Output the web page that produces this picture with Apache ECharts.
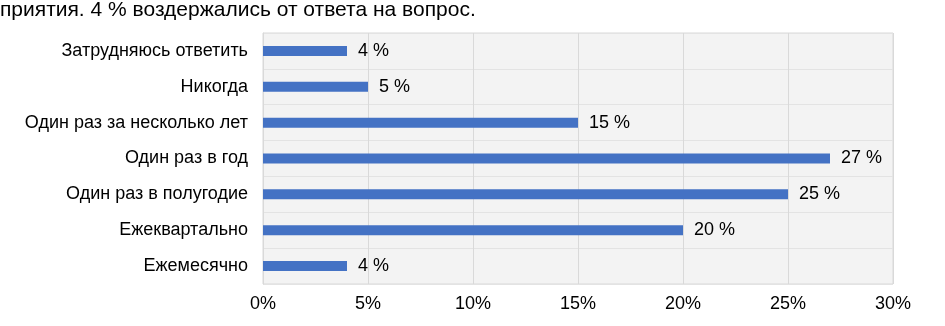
<!DOCTYPE html>
<html>
<head>
<meta charset="utf-8">
<script src="https://cdn.jsdelivr.net/npm/echarts@6/dist/echarts.min.js"></script>
<style>
html, body { margin: 0; padding: 0; background: #fff; }
#chart { width: 945px; height: 326px; }
</style>
</head>
<body>
<div id="chart"></div>
<script type="text/javascript">
// ответы, сверху вниз
var categories = ['Затрудняюсь ответить', 'Никогда', 'Один раз за несколько лет',
    'Один раз в год', 'Один раз в полугодие', 'Ежеквартально', 'Ежемесячно'];
var values = [4, 5, 15, 27, 25, 20, 4];
var xTicks = [0, 5, 10, 15, 20, 25, 30];
var headText = 'приятия. 4 % воздержались от ответа на вопрос.';

var font = 'Liberation Sans, Arial, sans-serif';
var chart = echarts.init(document.getElementById('chart'));

var option = {
    animation: false,
    textStyle: { fontFamily: font },
    graphic: [{
        type: 'text',
        left: 0,
        top: 0,
        style: { text: headText, font: '21px ' + font, fill: '#000' }
    }],
    grid: {
        left: 263,
        right: 52,
        top: 33,
        bottom: 42,
        show: true,
        backgroundColor: '#f3f3f3',
        borderColor: '#d9d9d9',
        borderWidth: 1
    },
    xAxis: {
        type: 'value',
        min: xTicks[0],
        max: xTicks[xTicks.length - 1],
        interval: 5,
        axisLine: { show: false },
        axisTick: { show: false },
        axisLabel: { color: '#000', fontSize: 18, margin: 11, formatter: '{value}%' },
        splitLine: { lineStyle: { color: '#d9d9d9' } }
    },
    yAxis: {
        type: 'category',
        inverse: true,
        data: categories,
        axisLine: { lineStyle: { color: '#d9d9d9' } },
        axisTick: { show: false },
        axisLabel: { color: '#000', fontSize: 18, margin: 15 },
        splitLine: { show: true, lineStyle: { color: '#e3e3e3' } }
    },
    series: [{
        type: 'bar',
        data: values,
        barWidth: 10,
        itemStyle: { color: '#4472c4' },
        label: {
            show: true,
            position: 'right',
            distance: 11,
            color: '#000',
            fontSize: 18,
            formatter: '{c} %'
        }
    }]
};

chart.setOption(option);
</script>
</body>
</html>
